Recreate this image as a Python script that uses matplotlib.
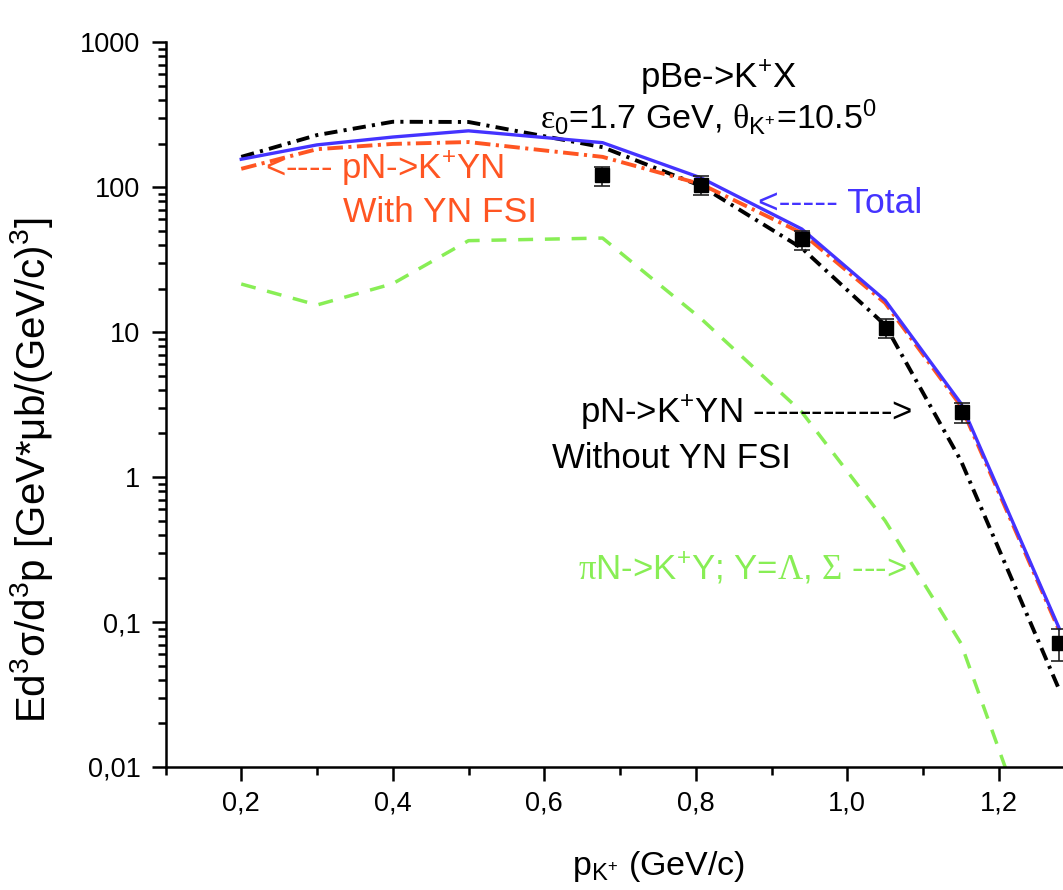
import matplotlib
matplotlib.use("Agg")
import matplotlib.pyplot as plt
from matplotlib.ticker import FixedLocator, FuncFormatter, LogLocator, NullFormatter
import numpy as np

plt.rcParams["font.family"] = ["Liberation Sans", "DejaVu Sans"]
plt.rcParams["mathtext.fontset"] = "custom"
plt.rcParams["mathtext.rm"] = "Liberation Serif"
plt.rcParams["mathtext.default"] = "regular"

# kaon momentum grid of the model calculations (GeV/c)
p_model = [0.2, 0.3, 0.4, 0.5, 0.677, 0.807, 0.94, 1.05, 1.15, 1.28]
total = [156, 196, 222, 245, 203, 116, 51.5, 16.6, 3.23, 0.090]
with_fsi = [134, 183, 199, 205, 162, 105, 48.3, 15.9, 3.10, 0.087]
without_fsi = [162, 229, 283, 282, 189, 102, 38.0, 11.2, 1.30, 0.034]
pion_channel = [21.5, 15.4, 21.6, 42.8, 44.6, 12.4, 2.81, 0.50, 0.0715, 0.0009]

# measured spectrum
p_data = [0.676, 0.807, 0.940, 1.051, 1.151, 1.280]
sigma_data = [122.4, 103.6, 43.9, 10.76, 2.83, 0.0712]
sigma_lo = [102.4, 88.3, 36.9, 9.15, 2.37, 0.054]
sigma_hi = [138.5, 120.1, 50.1, 12.31, 3.24, 0.0894]

BLUE = "#4433FF"
ORANGE = "#FF5522"
GREEN = "#88EE55"
KP = r"K$^{+}$"

W, H = 1063, 890
fig = plt.figure(figsize=(W / 100, H / 100), dpi=100)
# x range runs to 1.3, the frame is cut at the right edge of the canvas
ax = fig.add_axes([165.5 / W, (H - 767) / H, 909 / W, 724.7 / H])

ax.plot(p_model, pion_channel, color=GREEN, lw=2.5, ls=(0, (4.3, 3.4)))
ax.plot(p_model, without_fsi, color="black", lw=2.8, ls=(0, (3.4, 1.6, 0.8, 1.6)))
ax.plot(p_model, with_fsi, color=ORANGE, lw=2.8, ls=(0, (4.0, 1.4, 0.8, 1.4)))
ax.plot(p_model, total, color=BLUE, lw=2.4)

sig = np.array(sigma_data)
yerr = [sig - np.array(sigma_lo), np.array(sigma_hi) - sig]
ax.errorbar(p_data, sigma_data, yerr=yerr, fmt="s", color="black", ms=10.5,
            ecolor="#222222", elinewidth=1.2, capsize=5.5, capthick=1.2, zorder=5)

ax.set_yscale("log")
ax.set_xlim(0.1, 1.3)
ax.set_ylim(0.01, 1000)

for s in ("top", "right"):
    ax.spines[s].set_visible(False)
for s in ("left", "bottom"):
    ax.spines[s].set_linewidth(1.8)

ax.xaxis.set_major_locator(FixedLocator([0.2, 0.4, 0.6, 0.8, 1.0, 1.2]))
ax.xaxis.set_minor_locator(FixedLocator([0.1, 0.3, 0.5, 0.7, 0.9, 1.1]))
ax.xaxis.set_major_formatter(FuncFormatter(lambda v, _: f"{v:.1f}".replace(".", ",")))
ax.yaxis.set_major_locator(LogLocator(base=10, numticks=10))
ax.yaxis.set_minor_locator(LogLocator(base=10, subs=np.arange(2, 10), numticks=20))
ax.yaxis.set_minor_formatter(NullFormatter())
ax.yaxis.set_major_formatter(FuncFormatter(lambda v, _: f"{v:g}".replace(".", ",")))
ax.tick_params(which="major", direction="out", length=10, width=1.8, labelsize=19.5)
ax.tick_params(which="minor", direction="out", length=5.5, width=1.8)
ax.tick_params(axis="y", which="major", pad=8)
ax.tick_params(axis="x", which="major", pad=7)

fig.text(32 / W, 1 - 470 / H, r"Ed$^{3}$σ/d$^{3}$p [GeV*μb/(GeV/c)$^{3}$]",
         rotation=90, ha="center", va="center", fontsize=29)
fig.text(659 / W, 1 - 875 / H, r"p$_{K^{+}}$ (GeV/c)", ha="center", va="baseline", fontsize=24.5)

fig.text(718 / W, 1 - 88 / H, "pBe->" + KP + "X", ha="center", va="baseline", fontsize=25)
fig.text(708 / W, 1 - 129 / H, r"$\mathrm{ε}_{0}$=1.7 GeV, $\mathrm{θ}_{K^{+}}$=10.5$^{0}$",
         ha="center", va="baseline", fontsize=24.5)

# curve annotations, placed in data coordinates
ax.text(0.231, 113.9, "<---- pN->" + KP + "YN", color=ORANGE, fontsize=25, va="baseline")
ax.text(0.334, 57.5, "With YN FSI", color=ORANGE, fontsize=25.5, va="baseline")
ax.text(0.882, 66.4, "<----- Total", color=BLUE, fontsize=25.5, va="baseline")
ax.text(0.647, 2.35, "pN->" + KP + "YN ------------>", color="black", fontsize=25, va="baseline")
ax.text(0.610, 1.15, "Without YN FSI", color="black", fontsize=25, va="baseline")
ax.text(0.645, 0.197, r"$\mathrm{π}$N->" + KP + r"Y; Y=$\mathrm{Λ}$, $\mathrm{Σ}$ --->",
        color=GREEN, fontsize=25, va="baseline")

fig.savefig("out.png", dpi=100)
